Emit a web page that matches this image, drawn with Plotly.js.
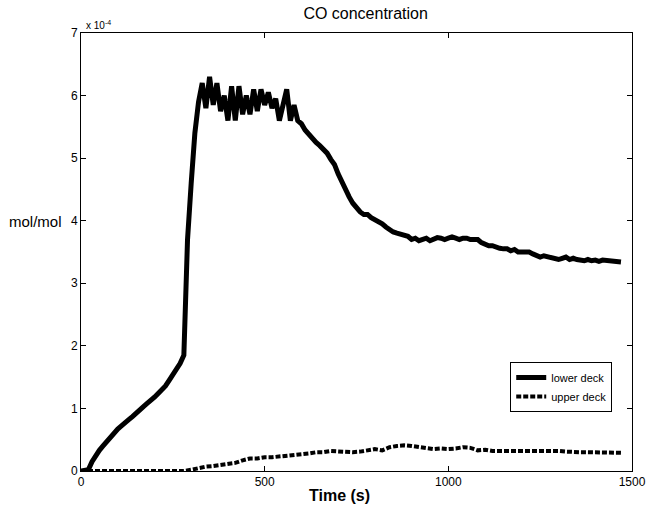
<!DOCTYPE html>
<html>
<head>
<meta charset="utf-8">
<script src="https://cdn.plot.ly/plotly-3.0.1.min.js"></script>
<style>html,body{margin:0;padding:0;background:#fff}#chart{width:646px;height:509px}</style>
</head>
<body>
<div id="chart"></div>
<script>
// Time (s), lower deck sampled every 10 s
var lowerTime = [];
for (var i = 0; i <= 147; i++) lowerTime.push(i * 10);
// CO concentration, lower deck (x 1e-4 mol/mol)
var lowerDeck = [
  0, 0, 0.02, 0.15, 0.25, 0.33, 0.40, 0.47, 0.55, 0.60,
  0.67, 0.72, 0.78, 0.82, 0.87, 0.93, 0.98, 1.03, 1.08, 1.12,
  1.18, 1.24, 1.30, 1.36, 1.45, 1.53, 1.62, 1.72, 1.85, 3.70,
  4.60, 5.40, 5.90, 6.20, 5.80, 6.30, 5.85, 6.20, 5.75, 6.00,
  5.60, 6.15, 5.60, 6.15, 5.70, 6.00, 5.70, 6.10, 5.75, 6.10,
  5.85, 6.05, 5.80, 5.95, 5.60, 5.85, 6.10, 5.60, 5.85, 5.60,
  5.55, 5.45, 5.38, 5.30, 5.25, 5.20, 5.15, 5.08, 4.98, 4.90,
  4.75, 4.62, 4.50, 4.38, 4.28, 4.20, 4.14, 4.10, 4.10, 4.05,
  4.02, 3.98, 3.95, 3.90, 3.85, 3.82, 3.80, 3.78, 3.76, 3.75,
  3.70, 3.72, 3.68, 3.70, 3.72, 3.68, 3.70, 3.73, 3.72, 3.70,
  3.72, 3.74, 3.72, 3.70, 3.72, 3.72, 3.70, 3.71, 3.70, 3.65,
  3.62, 3.60, 3.60, 3.57, 3.56, 3.55, 3.55, 3.52, 3.54, 3.50,
  3.50, 3.48, 3.50, 3.47, 3.45, 3.42, 3.44, 3.42, 3.40, 3.40,
  3.38, 3.40, 3.42, 3.38, 3.40, 3.38, 3.37, 3.36, 3.38, 3.36,
  3.37, 3.35, 3.37, 3.36, 3.35, 3.34, 3.35, 3.34
];
// Time (s), upper deck
var upperTime = [
  0, 20, 40, 60, 80, 100, 120, 140, 160, 180, 200, 220, 240, 260, 280,
  300, 320, 340, 360, 380, 400, 420, 440, 460, 480, 500, 520, 540, 560, 580,
  600, 620, 640, 660, 680, 700, 720, 740, 760, 780, 800, 820, 840, 860, 880,
  900, 920, 940, 960, 980, 1000, 1020, 1040, 1060, 1080, 1100, 1120, 1140, 1160, 1180,
  1200, 1220, 1240, 1260, 1280, 1300, 1320, 1340, 1360, 1380, 1400, 1420, 1440, 1460, 1470
];
var upperDeck = [
  0, 0, 0, 0, 0, 0, 0, 0, 0, 0, 0, 0, 0, 0, 0,
  0.02, 0.05, 0.07, 0.08, 0.10, 0.12, 0.13, 0.17, 0.20, 0.20, 0.22, 0.22, 0.23, 0.24, 0.25,
  0.26, 0.28, 0.30, 0.30, 0.32, 0.31, 0.30, 0.30, 0.31, 0.33, 0.35, 0.33, 0.38, 0.40, 0.41,
  0.40, 0.38, 0.36, 0.35, 0.36, 0.35, 0.36, 0.38, 0.37, 0.33, 0.34, 0.32, 0.32, 0.32, 0.33,
  0.32, 0.33, 0.33, 0.32, 0.33, 0.32, 0.31, 0.30, 0.30, 0.30, 0.30, 0.30, 0.29, 0.29, 0.29
];
var xTicks = [0, 500, 1000, 1500];
var yTicks = [0, 1, 2, 3, 4, 5, 6, 7];

var font = 'Liberation Sans, Arial, Helvetica, sans-serif';

var traces = [
  {x: lowerTime, y: lowerDeck, name: 'lower deck', mode: 'lines',
   line: {color: '#000', width: 5}},
  {x: upperTime, y: upperDeck, name: 'upper deck', mode: 'lines',
   line: {color: '#000', width: 4, dash: '5px,2px'}}
];

var layout = {
  width: 646, height: 509,
  margin: {l: 81, r: 14, t: 33, b: 38},
  paper_bgcolor: '#fff', plot_bgcolor: '#fff',
  font: {family: font, color: '#000', size: 12},
  title: {text: 'CO concentration', font: {size: 16, family: font, color: '#000'},
          x: 0.566, xanchor: 'center', y: 0.974, yanchor: 'middle'},
  xaxis: {range: [0, 1500], tickvals: xTicks, ticktext: xTicks.map(String),
          ticks: 'inside', ticklen: 5, tickcolor: '#000', showline: true,
          linecolor: '#000', linewidth: 1, mirror: 'ticks', showgrid: false,
          zeroline: false, tickfont: {size: 12}},
  yaxis: {range: [0, 7], tickvals: yTicks, ticktext: yTicks.map(String),
          ticks: 'inside', ticklen: 5, tickcolor: '#000', showline: true,
          linecolor: '#000', linewidth: 1, mirror: 'ticks', showgrid: false,
          zeroline: false, tickfont: {size: 12}},
  showlegend: true,
  legend: {x: 0.779, y: 0.249, xanchor: 'left', yanchor: 'top',
           bgcolor: '#fff', bordercolor: '#000', borderwidth: 1,
           font: {size: 11}, tracegroupgap: 0, itemwidth: 30},
  annotations: [
    {text: 'x 10<sup>-4</sup>', xref: 'paper', yref: 'paper', x: 0.005, y: 1.0,
     xanchor: 'left', yanchor: 'bottom', showarrow: false, font: {size: 10}},
    {text: 'mol/mol', xref: 'paper', yref: 'paper', x: -0.135, y: 0.57,
     xanchor: 'left', yanchor: 'middle', showarrow: false, font: {size: 15}},
    {text: '<b>Time (s)</b>', xref: 'paper', yref: 'paper', x: 0.47, y: -0.057,
     xanchor: 'center', yanchor: 'middle', showarrow: false, font: {size: 16}}
  ]
};

Plotly.newPlot('chart', traces, layout, {displayModeBar: false, staticPlot: true});
</script>
</body>
</html>
